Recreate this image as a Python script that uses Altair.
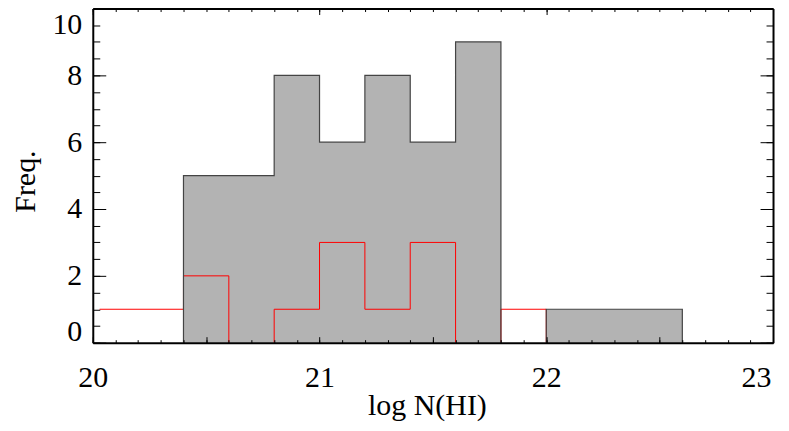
import altair as alt
import pandas as pd

# ---- data ----
# grey histogram (step-after: value holds from this edge to the next)
gray_edges = [20.4, 20.8, 21.0, 21.2, 21.4, 21.6, 21.8, 22.0, 22.6]
gray_counts = [5, 8, 6, 8, 6, 9, 0, 1, 1]
# its outline, split into the two visible pieces
outline_edges = [20.4, 20.4, 20.8, 21.0, 21.2, 21.4, 21.6, 21.8, 22.0, 22.0, 22.6, 22.6]
outline_counts = [0, 5, 8, 6, 8, 6, 9, 0, 0, 1, 1, 0]
outline_piece = [0, 0, 0, 0, 0, 0, 0, 0, 1, 1, 1, 1]
# red histogram, split where it runs along zero
red_edges = [20.03, 20.4, 20.6, 20.8, 20.8, 21.0, 21.2, 21.4, 21.6, 21.8, 21.8, 22.0]
red_counts = [1, 2, 0, 0, 1, 3, 1, 3, 0, 0, 1, 0]
red_piece = [0, 0, 0, 1, 1, 1, 1, 1, 1, 2, 2, 2]

x_half_ticks = [20.0, 20.5, 21.0, 21.5, 22.0, 22.5, 23.0]
x_top_ticks = [20, 21, 22, 23]
x_minor_ticks = [20.0, 20.1, 20.2, 20.3, 20.4, 20.5, 20.6, 20.7, 20.8, 20.9,
                 21.0, 21.1, 21.2, 21.3, 21.4, 21.5, 21.6, 21.7, 21.8, 21.9,
                 22.0, 22.1, 22.2, 22.3, 22.4, 22.5, 22.6, 22.7, 22.8, 22.9, 23.0]
y_major_ticks = [0, 2, 4, 6, 8, 10]
y_minor_ticks = [0, 0.5, 1, 1.5, 2, 2.5, 3, 3.5, 4, 4.5, 5, 5.5, 6, 6.5,
                 7, 7.5, 8, 8.5, 9, 9.5, 10]

W, H = 682, 335
FONT = "Liberation Serif"

gray_df = pd.DataFrame({"x": gray_edges, "y": gray_counts})
outline_df = pd.DataFrame({"x": outline_edges, "y": outline_counts,
                           "piece": outline_piece})
outline_df["i"] = range(len(outline_df))
red_df = pd.DataFrame({"x": red_edges, "y": red_counts, "piece": red_piece})
red_df["i"] = range(len(red_df))

xs = alt.Scale(domain=[20, 23], nice=False, zero=False)
ys = alt.Scale(domain=[0, 10], nice=False, zero=False)


def tick_axis(orient, values, size, domain=False):
    return alt.Axis(
        orient=orient, values=values, labels=False, title="", grid=False,
        domain=domain, domainColor="black", domainWidth=2,
        ticks=True, tickSize=alt.expr(str(-size)), tickColor="black",
        tickWidth=1, zindex=1,
    )


x_label_axis = alt.Axis(
    orient="bottom", values=x_half_ticks,
    labelExpr="datum.value % 1 == 0 ? format(datum.value, 'd') : ''",
    labelFont=FONT, labelFontSize=30, labelColor="black",
    labelBaseline="alphabetic", labelPadding=49.5,
    labelOffset={"condition": {"test": "datum.value == 23", "value": -17}, "value": 0},
    labelFlush=False, labelOverlap=False,
    title="log N(HI)", titleFont=FONT, titleFontSize=30,
    titleFontWeight="normal", titleColor="black",
    titleX=335, titleY=72, titleBaseline="alphabetic", titleAlign="center",
    grid=False, domain=True, domainColor="black", domainWidth=2,
    ticks=True, tickSize=alt.expr("-6"), tickColor="black", tickWidth=1,
    zindex=1,
)

y_label_axis = alt.Axis(
    orient="left", values=y_major_ticks, format="d",
    labelFont=FONT, labelFontSize=30, labelColor="black",
    labelBaseline="middle", labelAlign="right", labelPadding=24,
    labelOffset={"condition": [{"test": "datum.value == 0", "value": -11},
                               {"test": "datum.value == 10", "value": 16}],
                 "value": 0},
    labelFlush=False, labelOverlap=False,
    title="Freq.", titleFont=FONT, titleFontSize=30,
    titleFontWeight="normal", titleColor="black",
    titleX=-58, titleY=173, titleAngle=270, titleBaseline="alphabetic",
    titleAlign="center",
    grid=False, domain=True, domainColor="black", domainWidth=2,
    ticks=True, tickSize=alt.expr("-13"), tickColor="black", tickWidth=1,
    zindex=1,
)

area = alt.Chart(gray_df).mark_area(
    interpolate="step-after", color="#b3b3b3"
).encode(
    x=alt.X("x:Q", scale=xs, axis=x_label_axis),
    y=alt.Y("y:Q", scale=ys, axis=y_label_axis, stack=None),
)

red = alt.Chart(red_df).mark_line(
    interpolate="step-after", color="#ff0000", strokeWidth=1
).encode(
    x=alt.X("x:Q", scale=xs, axis=tick_axis("bottom", x_minor_ticks, 3)),
    y=alt.Y("y:Q", scale=ys, axis=tick_axis("left", y_minor_ticks, 7)),
    detail="piece:N",
    order="i:Q",
)

outline = alt.Chart(outline_df).mark_line(
    interpolate="step-after", color="#444444", strokeWidth=1.2
).encode(
    x=alt.X("x:Q", scale=xs, axis=tick_axis("top", x_top_ticks, 6, domain=True)),
    y=alt.Y("y:Q", scale=ys, axis=tick_axis("right", y_major_ticks, 13, domain=True)),
    detail="piece:N",
    order="i:Q",
)

ghost = alt.Chart(outline_df).mark_line(
    interpolate="step-after", opacity=0
).encode(
    x=alt.X("x:Q", scale=xs, axis=tick_axis("top", x_minor_ticks, 3)),
    y=alt.Y("y:Q", scale=ys, axis=tick_axis("right", y_minor_ticks, 7)),
    detail="piece:N",
    order="i:Q",
)

chart = alt.layer(area, red, outline, ghost).resolve_axis(
    x="independent", y="independent"
).properties(
    width=W, height=H,
    padding={"left": 85, "top": 0, "right": 8, "bottom": 80},
    autosize=alt.AutoSizeParams(type="none"),
    background="white",
).configure_view(strokeWidth=0)

chart.save("out.html", embed_options={"renderer": "svg", "actions": False})
